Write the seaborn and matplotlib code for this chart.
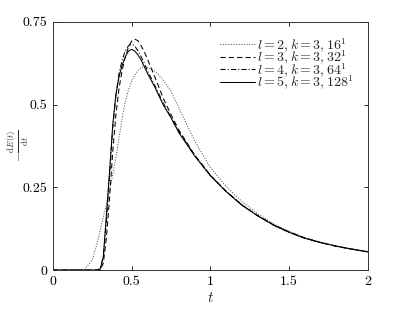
import numpy as np
import pandas as pd
import matplotlib
matplotlib.use('Agg')
import matplotlib.pyplot as plt
import seaborn as sns

# time grid (shared by all four runs)
t = [0, 0.15, 0.2, 0.25, 0.28, 0.3, 0.32, 0.34, 0.36, 0.38, 0.4, 0.42, 0.44,
     0.46, 0.48, 0.5, 0.52, 0.54, 0.56, 0.58, 0.6, 0.65, 0.7, 0.75, 0.8, 0.9,
     1.0, 1.1, 1.2, 1.3, 1.4, 1.5, 1.6, 1.7, 1.8, 1.9, 2.0]

# -dE/dt
l2 = [0, 0, 0.002, 0.03, 0.08, 0.12, 0.16, 0.20, 0.24, 0.29, 0.34, 0.40, 0.46,
      0.51, 0.545, 0.57, 0.59, 0.603, 0.612, 0.615, 0.613, 0.60, 0.575, 0.54, 0.49, 0.39,
      0.31, 0.253, 0.207, 0.17, 0.14, 0.117, 0.098, 0.084, 0.073, 0.064, 0.056]
l3 = [0, 0, 0, 0, 0, 0.0, 0.02, 0.10, 0.22, 0.36, 0.47, 0.55, 0.605,
      0.645, 0.675, 0.692, 0.698, 0.693, 0.678, 0.66, 0.638, 0.58, 0.52, 0.47, 0.423, 0.348,
      0.287, 0.238, 0.197, 0.165, 0.137, 0.115, 0.097, 0.083, 0.072, 0.063, 0.055]
l4 = [0, 0, 0, 0, 0, 0.005, 0.04, 0.15, 0.29, 0.43, 0.53, 0.595, 0.635,
      0.663, 0.678, 0.683, 0.677, 0.663, 0.645, 0.625, 0.603, 0.555, 0.505, 0.462, 0.418, 0.346,
      0.286, 0.238, 0.197, 0.164, 0.136, 0.114, 0.096, 0.083, 0.072, 0.063, 0.055]
l5 = [0, 0, 0, 0, 0, 0.002, 0.04, 0.17, 0.30, 0.44, 0.53, 0.585, 0.62,
      0.645, 0.662, 0.667, 0.662, 0.65, 0.635, 0.615, 0.595, 0.55, 0.50, 0.46, 0.415, 0.345,
      0.285, 0.237, 0.196, 0.164, 0.136, 0.114, 0.096, 0.083, 0.072, 0.063, 0.055]

labels = [r'$l=2, k=3, 16^1$', r'$l=3, k=3, 32^1$',
          r'$l=4, k=3, 64^1$', r'$l=5, k=3, 128^1$']
styles = [(0, (1, 1.5)), (0, (5, 3)), (0, (5, 2, 1, 2)), '-']
colors = ['#555555', 'black', 'black', 'black']

sns.set_style('ticks')
plt.rcParams['font.family'] = 'serif'
plt.rcParams['font.serif'] = ['cmr10', 'DejaVu Serif']
plt.rcParams['mathtext.fontset'] = 'cm'
plt.rcParams['axes.unicode_minus'] = False
plt.rcParams['axes.formatter.use_mathtext'] = True

fig = plt.figure(figsize=(4.07, 3.09), dpi=100)
ax = fig.add_axes([0.130, 0.126, 0.774, 0.803])

for vals, lab, ls, c in zip([l2, l3, l4, l5], labels, styles, colors):
    df = pd.DataFrame({'t': t, 'v': vals})
    sns.lineplot(data=df, x='t', y='v', ax=ax, color=c, lw=0.75,
                 linestyle=ls, label=lab)

ax.set_xlim(0, 2)
ax.set_ylim(0, 0.75)
ax.set_xticks([0, 0.5, 1, 1.5, 2])
ax.set_xticklabels(['0', '0.5', '1', '1.5', '2'])
ax.set_yticks([0, 0.25, 0.5, 0.75])
ax.set_yticklabels(['0', '0.25', '0.5', '0.75'])
ax.tick_params(direction='in', top=True, right=True, length=3, width=0.6,
               labelsize=10, colors='black', pad=4)
for s in ax.spines.values():
    s.set_linewidth(0.7)
    s.set_color('#333333')

ax.set_xlabel(r'$t$', fontsize=11, labelpad=2)
ax.set_ylabel(r'$-\frac{\mathrm{d}E(t)}{\mathrm{d}t}$', fontsize=9,
              va='center', ha='center')
ax.yaxis.set_label_coords(-0.11, 0.5)

ax.legend(loc='upper right', frameon=False, fontsize=10, handlelength=2.5,
          handletextpad=0.2, labelspacing=-0.38, borderaxespad=0.6)

fig.savefig('out.png', dpi=100)
